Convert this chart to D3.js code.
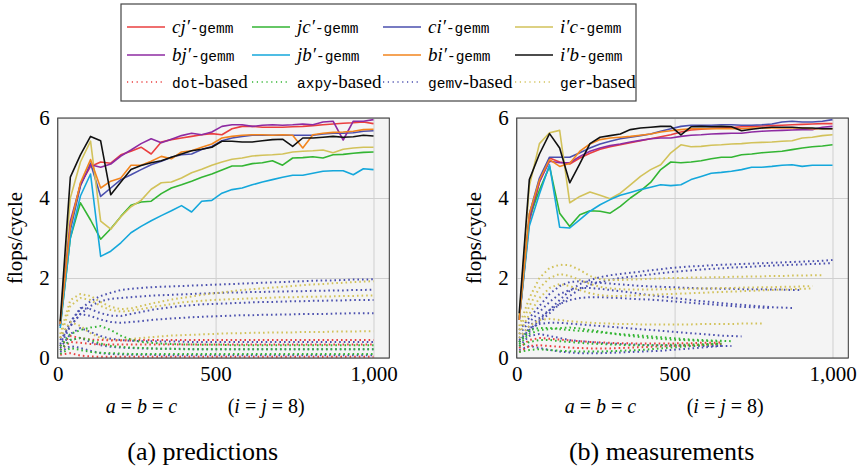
<!DOCTYPE html>
<html><head><meta charset="utf-8">
<script src="https://cdn.jsdelivr.net/npm/d3@7"></script>
<style>body{margin:0;background:#fff} svg{display:block} .serif{font-family:"Liberation Serif","Times New Roman",serif} .mono{font-family:"Liberation Mono","DejaVu Sans Mono",monospace}</style>
</head><body>
<svg id="c" width="859" height="467"></svg>
<script>
// ---------- data ----------
const sizes = [8,40,72,104,136,168,200,232,264,296,328,360,392,424,456,488,520,552,584,616,648,680,712,744,776,808,840,872,904,936,968,1000];
const xTicks = [0,500,1000];
const yTicks = [0,2,4,6];
const seriesKeys = ["cj","jc","ci","ic","bj","jb","bi","ib"];
const legendMath = ["cj′","jc′","ci′","i′c","bj′","jb′","bi′","i′b"];
const legendKernels = ["dot","axpy","gemv","ger"];

// (a) predictions
const pred_cj = [0.85,3.3,4.35,4.79,4.9,4.87,5.08,5.17,5.27,5.1,5.4,5.46,5.5,5.54,5.58,5.61,5.58,5.73,5.79,5.79,5.77,5.77,5.77,5.78,5.79,5.81,5.83,5.85,5.87,5.88,5.9,5.86];
const pred_jc = [0.8,3.0,3.88,3.45,2.97,3.23,3.54,3.82,3.9,3.92,4.11,4.25,4.33,4.42,4.52,4.6,4.7,4.8,4.8,4.86,4.88,4.93,4.82,5.0,5.01,5.03,5.0,5.08,5.09,5.12,5.14,5.15];
const pred_ci = [0.85,3.2,4.3,4.87,4.04,4.25,4.46,4.58,4.71,4.83,4.92,5.02,5.08,5.1,5.21,5.29,5.43,5.5,5.54,5.57,5.57,5.57,5.57,5.57,5.57,5.57,5.6,5.62,5.62,5.63,5.67,5.68];
const pred_ic = [0.85,4.0,4.9,5.42,3.42,3.22,3.53,3.78,3.94,4.22,4.38,4.4,4.5,4.63,4.72,4.82,4.9,4.97,5.0,5.05,5.07,5.08,5.1,5.15,5.17,5.18,5.2,5.13,5.22,5.25,5.27,5.27];
const pred_bj = [0.8,3.42,4.33,4.83,4.77,4.85,5.05,5.2,5.36,5.48,5.38,5.47,5.56,5.62,5.58,5.65,5.79,5.83,5.83,5.79,5.82,5.83,5.82,5.83,5.85,5.83,5.9,5.92,5.45,5.92,5.92,5.96];
const pred_jb = [0.75,3.0,4.05,4.6,2.54,2.67,2.88,3.13,3.29,3.43,3.56,3.68,3.81,3.65,3.92,3.94,4.12,4.21,4.25,4.33,4.4,4.46,4.52,4.57,4.57,4.62,4.67,4.68,4.68,4.58,4.73,4.71];
const pred_bi = [0.85,3.3,4.38,4.96,4.25,4.42,4.5,4.82,4.82,4.92,5.04,4.98,5.15,5.18,5.27,5.35,5.5,5.54,5.57,5.58,5.58,5.57,5.58,5.57,5.25,5.58,5.62,5.64,5.65,5.67,5.71,5.72];
const pred_ib = [0.92,4.52,5.08,5.54,5.43,4.08,4.4,4.71,4.81,4.88,4.93,5.02,5.1,5.18,5.22,5.27,5.42,5.42,5.4,5.4,5.43,5.46,5.47,5.29,5.5,5.5,5.52,5.54,5.52,5.53,5.57,5.55];

// (b) measurements
const meas_cj = [0.95,3.4,4.4,5.0,4.9,4.85,5.0,5.12,5.22,5.28,5.33,5.38,5.43,5.48,5.53,5.58,5.65,5.7,5.72,5.74,5.75,5.76,5.78,5.79,5.8,5.81,5.82,5.83,5.84,5.85,5.86,5.86];
const meas_jc = [1.0,3.5,4.2,4.79,3.62,3.29,3.58,3.68,3.67,3.62,3.79,4.0,4.18,4.39,4.71,4.9,4.88,4.9,4.93,4.98,5.02,5.02,5.08,5.1,5.13,5.15,5.17,5.21,5.25,5.28,5.3,5.33];
const meas_ci = [0.95,3.6,4.5,5.02,5.02,5.02,5.13,5.25,5.35,5.42,5.48,5.52,5.56,5.6,5.67,5.73,5.79,5.82,5.82,5.82,5.83,5.83,5.82,5.82,5.83,5.85,5.9,5.92,5.9,5.9,5.92,5.96];
const meas_ic = [1.0,4.3,5.36,5.63,5.69,3.88,4.04,4.15,4.07,3.98,4.12,4.33,4.54,4.71,4.83,5.13,5.33,5.28,5.29,5.32,5.33,5.35,5.36,5.38,5.39,5.4,5.42,5.43,5.5,5.52,5.56,5.58];
const meas_bj = [0.95,3.5,4.4,4.92,4.88,4.88,5.04,5.17,5.25,5.31,5.35,5.4,5.44,5.48,5.5,5.5,5.54,5.57,5.58,5.6,5.61,5.62,5.62,5.65,5.67,5.68,5.69,5.7,5.71,5.71,5.77,5.79];
const meas_jb = [0.95,3.3,4.1,4.83,3.27,3.25,3.46,3.67,3.83,3.96,4.07,4.14,4.21,4.27,4.33,4.31,4.33,4.46,4.54,4.62,4.64,4.67,4.71,4.77,4.77,4.79,4.82,4.83,4.79,4.82,4.82,4.82];
const meas_bi = [0.95,3.6,4.45,4.96,4.79,4.87,5.17,5.35,5.46,5.5,5.52,5.54,5.57,5.6,5.65,5.68,5.71,5.73,5.73,5.73,5.73,5.73,5.73,5.75,5.75,5.75,5.75,5.75,5.75,5.73,5.73,5.73];
const meas_ib = [1.12,4.46,5.1,5.61,5.25,4.38,4.86,5.36,5.52,5.56,5.6,5.71,5.75,5.77,5.79,5.79,5.58,5.78,5.79,5.78,5.79,5.78,5.68,5.72,5.75,5.77,5.77,5.77,5.75,5.75,5.73,5.73];

// dotted (BLAS-based) variants, predictions
const pred_gemv = [
 [0.5,0.9,1.22,1.42,1.55,1.63,1.7,1.73,1.75,1.77,1.78,1.79,1.8,1.81,1.82,1.83,1.84,1.85,1.86,1.87,1.88,1.89,1.9,1.91,1.92,1.93,1.94,1.94,1.95,1.96,1.96,1.97],
 [0.45,0.8,1.1,1.3,1.42,1.48,1.5,1.52,1.54,1.56,1.57,1.58,1.59,1.6,1.61,1.62,1.63,1.64,1.64,1.65,1.65,1.66,1.66,1.67,1.67,1.68,1.68,1.69,1.69,1.7,1.7,1.71],
 [0.35,0.9,1.25,1.22,1.12,1.06,1.05,1.1,1.15,1.2,1.24,1.27,1.3,1.32,1.34,1.35,1.36,1.37,1.38,1.39,1.4,1.4,1.41,1.42,1.42,1.43,1.43,1.44,1.44,1.45,1.45,1.45],
 [0.3,0.8,1.1,1.05,0.96,0.9,0.88,0.9,0.92,0.95,0.97,0.99,1.0,1.02,1.03,1.04,1.05,1.06,1.07,1.07,1.08,1.08,1.09,1.09,1.1,1.1,1.1,1.11,1.11,1.12,1.12,1.12],
 [0.25,0.6,0.75,0.65,0.55,0.48,0.45,0.43,0.42,0.42,0.41,0.41,0.41,0.4,0.4,0.4,0.4,0.4,0.4,0.4,0.4,0.4,0.4,0.4,0.4,0.4,0.4,0.4,0.4,0.4,0.4,0.4],
 [0.2,0.45,0.5,0.4,0.32,0.28,0.26,0.25,0.24,0.24,0.23,0.23,0.23,0.22,0.22,0.22,0.22,0.22,0.22,0.22,0.22,0.22,0.22,0.22,0.22,0.22,0.22,0.22,0.22,0.22,0.22,0.22],
 [0.15,0.3,0.25,0.18,0.12,0.1,0.09,0.08,0.08,0.08,0.07,0.07,0.07,0.07,0.07,0.07,0.07,0.07,0.07,0.07,0.07,0.07,0.07,0.07,0.07,0.07,0.07,0.07,0.07,0.07,0.07,0.07]
];
const pred_ger = [
 [0.6,1.45,1.6,1.55,1.4,1.28,1.22,1.24,1.3,1.36,1.41,1.46,1.5,1.54,1.58,1.61,1.64,1.67,1.7,1.72,1.74,1.76,1.78,1.8,1.82,1.84,1.85,1.87,1.88,1.9,1.91,1.92],
 [0.5,1.3,1.5,1.45,1.3,1.2,1.16,1.18,1.22,1.27,1.31,1.35,1.39,1.41,1.43,1.45,1.46,1.47,1.48,1.49,1.5,1.51,1.52,1.52,1.53,1.53,1.54,1.54,1.55,1.55,1.56,1.56],
 [0.5,0.9,0.8,0.62,0.5,0.45,0.45,0.47,0.5,0.52,0.54,0.56,0.57,0.58,0.59,0.6,0.61,0.62,0.62,0.63,0.63,0.64,0.64,0.64,0.65,0.65,0.65,0.66,0.66,0.66,0.67,0.67]
];
const pred_dot = [
 [0.3,0.55,0.5,0.46,0.45,0.44,0.44,0.44,0.45,0.45,0.45,0.45,0.45,0.45,0.45,0.45,0.45,0.45,0.45,0.45,0.45,0.45,0.45,0.45,0.45,0.45,0.45,0.45,0.45,0.45,0.45,0.45],
 [0.2,0.4,0.38,0.35,0.34,0.34,0.34,0.34,0.34,0.34,0.34,0.34,0.34,0.34,0.34,0.34,0.34,0.34,0.34,0.34,0.34,0.34,0.34,0.34,0.34,0.34,0.34,0.34,0.34,0.34,0.34,0.34],
 [0.08,0.12,0.06,0.04,0.03,0.03,0.03,0.03,0.03,0.03,0.03,0.03,0.03,0.03,0.03,0.03,0.03,0.03,0.03,0.03,0.03,0.03,0.03,0.03,0.03,0.03,0.03,0.03,0.03,0.03,0.03,0.03]
];
const pred_axpy = [
 [0.3,0.6,0.7,0.76,0.8,0.7,0.56,0.46,0.4,0.38,0.36,0.35,0.34,0.34,0.33,0.33,0.33,0.32,0.32,0.32,0.32,0.32,0.32,0.32,0.32,0.32,0.32,0.32,0.32,0.32,0.32,0.32],
 [0.2,0.45,0.5,0.45,0.36,0.3,0.28,0.26,0.25,0.24,0.23,0.23,0.22,0.22,0.22,0.22,0.22,0.22,0.22,0.22,0.22,0.22,0.22,0.22,0.22,0.22,0.22,0.22,0.22,0.22,0.22,0.22],
 [0.1,0.25,0.2,0.15,0.13,0.12,0.11,0.1,0.1,0.1,0.1,0.1,0.1,0.1,0.1,0.1,0.1,0.1,0.1,0.1,0.1,0.1,0.1,0.1,0.1,0.1,0.1,0.1,0.1,0.1,0.1,0.1]
];
// dotted variants, measurements (shorter lists = runs that stop earlier)
const meas_gemv = [
 [0.45,0.7,0.95,1.2,1.45,1.68,1.85,1.95,2.02,2.07,2.1,2.13,2.16,2.19,2.22,2.25,2.27,2.29,2.3,2.32,2.33,2.34,2.35,2.36,2.37,2.38,2.39,2.4,2.41,2.42,2.43,2.45],
 [0.4,0.65,0.9,1.12,1.35,1.55,1.72,1.83,1.9,1.95,2.0,2.03,2.06,2.09,2.12,2.15,2.17,2.19,2.21,2.23,2.24,2.26,2.27,2.28,2.3,2.31,2.32,2.33,2.34,2.35,2.36,2.37],
 [0.7,1.0,1.3,1.6,1.8,1.9,1.92,1.9,1.88,1.86,1.84,1.82,1.8,1.79,1.78,1.77,1.76,1.75,1.74,1.74,1.73,1.73,1.72,1.72,1.72,1.71,1.71,1.7,1.7],
 [0.6,0.9,1.15,1.4,1.6,1.7,1.75,1.75,1.73,1.7,1.67,1.64,1.6,1.57,1.54,1.51,1.48,1.45,1.42,1.4,1.37,1.35,1.33,1.31,1.29,1.27,1.26,1.25],
 [0.5,0.8,1.0,1.2,1.35,1.45,1.5,1.52,1.52,1.51,1.5,1.48,1.47,1.46,1.44,1.42,1.4,1.38,1.36,1.34,1.32,1.3,1.28,1.27,1.26,1.25],
 [0.4,0.75,0.85,0.88,0.88,0.86,0.84,0.82,0.8,0.78,0.76,0.74,0.72,0.7,0.68,0.66,0.64,0.62,0.6,0.58,0.56,0.55,0.54],
 [0.3,0.55,0.6,0.55,0.5,0.45,0.42,0.4,0.38,0.36,0.35,0.34,0.33,0.32,0.32,0.31,0.31,0.3,0.3,0.3,0.3,0.3],
 [0.2,0.3,0.25,0.2,0.16,0.14,0.12,0.12,0.12,0.13,0.14,0.15,0.16,0.17,0.18,0.2,0.22,0.24,0.26,0.28,0.3]
];
const meas_ger = [
 [0.8,1.5,2.0,2.25,2.33,2.32,2.2,2.05,1.97,1.95,1.95,1.96,1.97,1.98,1.99,2.0,2.0,2.01,2.01,2.02,2.02,2.03,2.03,2.04,2.04,2.05,2.05,2.06,2.06,2.07,2.07],
 [0.7,1.3,1.75,2.0,2.1,2.05,1.95,1.85,1.78,1.74,1.72,1.71,1.71,1.71,1.72,1.72,1.73,1.73,1.74,1.74,1.75,1.75,1.76,1.76,1.77,1.77,1.78,1.78,1.79,1.8],
 [0.6,1.1,1.5,1.75,1.85,1.8,1.7,1.62,1.57,1.55,1.55,1.56,1.57,1.58,1.59,1.6,1.61,1.62,1.63,1.64,1.65,1.66,1.67,1.68,1.69,1.7,1.71,1.72,1.73,1.74],
 [0.5,0.8,0.95,0.98,0.95,0.92,0.9,0.88,0.87,0.86,0.85,0.85,0.84,0.84,0.84,0.84,0.84,0.84,0.85,0.85,0.85,0.85,0.86,0.86,0.86]
];
const meas_dot = [
 [0.25,0.45,0.5,0.48,0.46,0.44,0.42,0.4,0.39,0.38,0.37,0.37,0.36,0.36,0.36,0.36,0.37,0.37,0.38,0.38,0.39],
 [0.15,0.3,0.32,0.3,0.28,0.26,0.25,0.24,0.24,0.24,0.25,0.26,0.27,0.28,0.29,0.3,0.31,0.32,0.33,0.34,0.35]
];
const meas_axpy = [
 [0.4,0.7,0.75,0.75,0.72,0.7,0.68,0.66,0.64,0.62,0.6,0.58,0.56,0.54,0.52,0.5,0.48,0.46,0.45,0.44,0.43,0.42],
 [0.35,0.6,0.7,0.72,0.75,0.76,0.74,0.7,0.66,0.62,0.58,0.55,0.52,0.5,0.48,0.46,0.45,0.44,0.43,0.42,0.41],
 [0.3,0.4,0.45,0.45,0.42,0.4,0.38,0.36,0.35,0.34,0.33,0.32,0.32,0.32,0.32,0.33,0.33,0.34,0.34,0.35,0.35],
 [0.15,0.2,0.22,0.2,0.18,0.17,0.16,0.16,0.16,0.17,0.18,0.19,0.2,0.22,0.24,0.26,0.28,0.3,0.32,0.34,0.36]
];

// ---------- styling ----------
const colors = {cj:"#ea3f3f", jc:"#33b533", ci:"#4a4fae", ic:"#d2c25a", bj:"#8e2ba2", jb:"#14a7db", bi:"#f2851e", ib:"#111111"};
const kernelColors = {dot:colors.cj, axpy:colors.jc, gemv:colors.ci, ger:colors.ic};
const svg = d3.select("#c");

function panel(id, x0, x1, solid, dotted, caption){
  const top=118, bot=358;
  const x = d3.scaleLinear().domain([0,1050]).range([x0,x1]);
  const y = d3.scaleLinear().domain([0,6]).range([bot,top]);
  const g = svg.append("g");
  g.append("rect").attr("x",x0).attr("y",top).attr("width",x1-x0).attr("height",bot-top).attr("fill","#f4f4f4");
  // grid
  g.append("g").attr("transform",`translate(0,${bot})`)
   .call(d3.axisBottom(x).tickValues(xTicks).tickSize(-(bot-top)).tickFormat(""))
   .call(a=>{a.select(".domain").remove(); a.selectAll("line").attr("stroke","#cfcfcf").attr("stroke-width",1);});
  g.append("g").attr("transform",`translate(${x0},0)`)
   .call(d3.axisLeft(y).tickValues(yTicks).tickSize(-(x1-x0)).tickFormat(""))
   .call(a=>{a.select(".domain").remove(); a.selectAll("line").attr("stroke","#cfcfcf").attr("stroke-width",1);});
  // clip
  g.append("clipPath").attr("id","clip"+id).append("rect").attr("x",x0).attr("y",top).attr("width",x1-x0).attr("height",bot-top);
  const lines = g.append("g").attr("clip-path",`url(#clip${id})`);
  const line = d3.line().x((d,i)=>x(sizes[i])).y(d=>y(d));
  ["gemv","ger","dot","axpy"].forEach(k=>{
    dotted[k].forEach(arr=>{
      lines.append("path").attr("d",line(arr)).attr("fill","none")
        .attr("stroke",kernelColors[k]).attr("stroke-width",2).attr("stroke-dasharray","1.6,3");
    });
  });
  seriesKeys.forEach(k=>{
    lines.append("path").attr("d",line(solid[k])).attr("fill","none")
      .attr("stroke",colors[k]).attr("stroke-width",1.6).attr("stroke-linejoin","round");
  });
  // frame
  g.append("rect").attr("x",x0).attr("y",top).attr("width",x1-x0).attr("height",bot-top)
   .attr("fill","none").attr("stroke","#333").attr("stroke-width",1);
  // axes tick labels
  const ax = g.append("g").attr("transform",`translate(0,${bot})`)
   .call(d3.axisBottom(x).tickValues(xTicks).tickSize(0).tickPadding(8).tickFormat(d3.format(",")));
  ax.select(".domain").remove();
  ax.attr("font-family",null).attr("font-size",null);
  ax.selectAll("text").attr("class","serif").style("font-size","21px").attr("fill","#000");
  const ay = g.append("g").attr("transform",`translate(${x0},0)`)
   .call(d3.axisLeft(y).tickValues(yTicks).tickSize(0).tickPadding(8).tickFormat(d3.format("d")));
  ay.select(".domain").remove();
  ay.attr("font-family",null).attr("font-size",null);
  ay.selectAll("text").attr("class","serif").style("font-size","21px").attr("fill","#000");
  // y label
  g.append("text").attr("class","serif").attr("transform",`translate(${x0-43},${(top+bot)/2}) rotate(-90)`)
   .attr("text-anchor","middle").attr("dominant-baseline","central")
   .style("font-size","21px").text("flops/cycle");
  // x label
  const xl = g.append("text").attr("class","serif").attr("x",x0+48).attr("y",413).style("font-size","20px");
  xl.append("tspan").attr("font-style","italic").text("a");
  xl.append("tspan").text(" = ");
  xl.append("tspan").attr("font-style","italic").text("b");
  xl.append("tspan").text(" = ");
  xl.append("tspan").attr("font-style","italic").text("c");
  const xl2 = g.append("text").attr("class","serif").attr("x",x0+170).attr("y",413).style("font-size","20px");
  xl2.append("tspan").text("(");
  xl2.append("tspan").attr("font-style","italic").text("i");
  xl2.append("tspan").text(" = ");
  xl2.append("tspan").attr("font-style","italic").text("j");
  xl2.append("tspan").text(" = 8)");
  // caption
  g.append("text").attr("class","serif").attr("x",x0+145).attr("y",460).attr("text-anchor","middle")
   .style("font-size","26px").text(caption);
}

panel("a",57.7,389.3,
 {cj:pred_cj,jc:pred_jc,ci:pred_ci,ic:pred_ic,bj:pred_bj,jb:pred_jb,bi:pred_bi,ib:pred_ib},
 {gemv:pred_gemv,ger:pred_ger,dot:pred_dot,axpy:pred_axpy},"(a) predictions");
panel("b",516.7,848.3,
 {cj:meas_cj,jc:meas_jc,ci:meas_ci,ic:meas_ic,bj:meas_bj,jb:meas_jb,bi:meas_bi,ib:meas_ib},
 {gemv:meas_gemv,ger:meas_ger,dot:meas_dot,axpy:meas_axpy},"(b) measurements");

// ---------- legend ----------
const lg = svg.append("g");
lg.append("rect").attr("x",121).attr("y",4).attr("width",515).attr("height",97)
  .attr("fill","#fff").attr("stroke","#444").attr("stroke-width",1.2);
const colX = [127,252,383,515];
const rowY = [27,55,82];
seriesKeys.forEach((k,i)=>{
  const cx = colX[i%4], cy = rowY[Math.floor(i/4)];
  lg.append("line").attr("x1",cx).attr("x2",cx+38).attr("y1",cy).attr("y2",cy)
    .attr("stroke",colors[k]).attr("stroke-width",1.6);
  const t = lg.append("text").attr("x",cx+45).attr("y",cy+6);
  t.append("tspan").attr("class","serif").attr("font-style","italic").style("font-size","19px").text(legendMath[i]);
  t.append("tspan").attr("class","mono").style("font-size","14.5px").text("-gemm");
});
legendKernels.forEach((k,i)=>{
  const cx = colX[i], cy = rowY[2];
  lg.append("line").attr("x1",cx).attr("x2",cx+38).attr("y1",cy).attr("y2",cy)
    .attr("stroke",kernelColors[k]).attr("stroke-width",1.6).attr("stroke-dasharray","1.2,3.6");
  const t = lg.append("text").attr("x",cx+45).attr("y",cy+6);
  t.append("tspan").attr("class","mono").style("font-size","14.5px").text(k);
  t.append("tspan").attr("class","serif").style("font-size","19px").text("-based");
});
</script>
</body></html>
